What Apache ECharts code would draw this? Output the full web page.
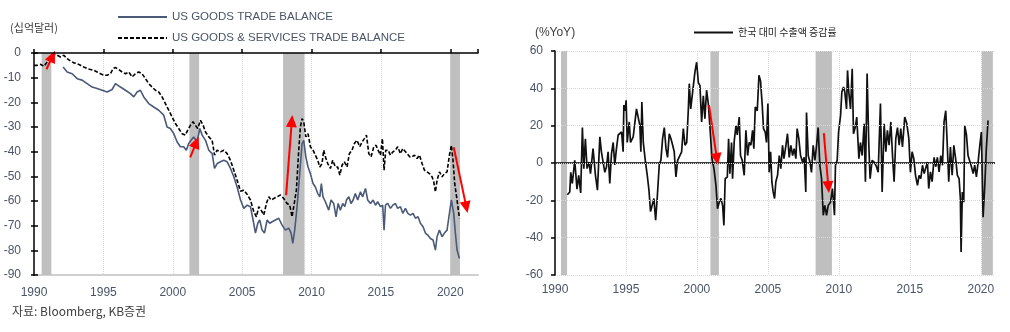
<!DOCTYPE html>
<html><head><meta charset="utf-8">
<script src="https://cdn.jsdelivr.net/npm/echarts@6/dist/echarts.min.js"></script>
<style>html,body{margin:0;padding:0;background:#fff}#c{width:1010px;height:332px}</style>
</head><body><div id="c"></div>
<script>
// ---------- Left chart: US trade balance (bn USD) ----------
const goodsYears = [1992.1,1992.39,1992.75,1993.11,1993.47,1993.83,1994.19,1994.55,1994.91,1995.27,1995.63,1995.87,1996.23,1996.59,1996.95,1997.19,1997.43,1997.67,1997.91,1998.27,1998.63,1998.99,1999.35,1999.59,1999.83,2000.07,2000.31,2000.55,2000.79,2000.98,2001.15,2001.32,2001.51,2001.75,2001.95,2002.12,2002.36,2002.6,2002.84,2003.01,2003.2,2003.44,2003.68,2003.92,2004.16,2004.4,2004.64,2004.88,2005.12,2005.36,2005.6,2005.79,2005.96,2006.13,2006.27,2006.44,2006.61,2006.8,2006.99,2007.16,2007.4,2007.64,2007.88,2008.12,2008.36,2008.53,2008.65,2008.79,2008.96,2009.15,2009.32,2009.44,2009.59,2009.75,2009.92,2010.11,2010.28,2010.45,2010.6,2010.71,2010.83,2011.0,2011.12,2011.24,2011.41,2011.6,2011.77,2011.92,2012.08,2012.25,2012.4,2012.52,2012.69,2012.85,2013.0,2013.16,2013.33,2013.53,2013.69,2013.89,2014.05,2014.25,2014.44,2014.61,2014.77,2014.97,2015.13,2015.23,2015.33,2015.49,2015.69,2015.86,2016.05,2016.21,2016.41,2016.58,2016.77,2016.94,2017.13,2017.32,2017.49,2017.68,2017.85,2018.04,2018.21,2018.38,2018.57,2018.76,2018.93,2019.05,2019.22,2019.41,2019.58,2019.77,2019.94,2020.08,2020.25,2020.37,2020.49,2020.66];
const goodsValues = [-5.7,-7.7,-8.4,-10.4,-11,-12.4,-13.8,-14.4,-15.1,-15.8,-14.8,-12.4,-13.8,-15.1,-16.5,-17.8,-15.8,-15.1,-17.8,-20.5,-21.9,-23.2,-25.2,-30,-30.6,-32.7,-36,-38,-38,-39.4,-36.7,-35.4,-34,-36,-30.6,-33.3,-35.4,-39.4,-40.8,-46.8,-44.8,-44.1,-43.5,-44.1,-46.8,-50.2,-54.3,-59.5,-63,-61.7,-62.3,-67.7,-73,-69,-67.7,-71.8,-73,-67.7,-69,-68.4,-67.7,-67,-69.8,-71.8,-71,-73,-77.2,-71.8,-62.3,-48.9,-36.7,-35.4,-42.1,-46.2,-48.9,-52.9,-54.3,-57,-58.3,-52.9,-58.3,-60.3,-61,-63.7,-59.6,-61,-66.4,-61,-63.7,-61,-62.3,-59.6,-58.3,-61,-59.6,-57,-59.6,-56.3,-58.3,-54.9,-59.6,-61,-59.6,-61.7,-60.3,-62.3,-61.7,-71.8,-61.7,-61,-63,-61.7,-61,-63,-62.3,-65,-63,-65,-65.7,-65,-67,-66.4,-69,-70.4,-73,-73.8,-75.2,-75.8,-79.9,-74.5,-71.8,-74.5,-73,-71.8,-65,-59.6,-65,-73,-79.9,-83.3];

const totalYears = [1990.0,1990.24,1990.48,1990.72,1990.95,1991.19,1991.43,1991.67,1991.91,1992.15,1992.39,1992.63,1992.87,1993.11,1993.35,1993.59,1993.83,1994.07,1994.31,1994.55,1994.79,1995.03,1995.27,1995.51,1995.7,1995.87,1996.11,1996.35,1996.59,1996.83,1997.07,1997.31,1997.55,1997.79,1998.03,1998.27,1998.51,1998.75,1998.99,1999.23,1999.47,1999.71,1999.95,2000.19,2000.43,2000.67,2000.91,2001.08,2001.27,2001.46,2001.63,2001.8,2002.0,2002.19,2002.36,2002.6,2002.84,2003.01,2003.2,2003.44,2003.68,2003.92,2004.16,2004.4,2004.64,2004.88,2005.12,2005.36,2005.6,2005.84,2006.03,2006.2,2006.37,2006.56,2006.75,2006.92,2007.09,2007.28,2007.52,2007.76,2008.0,2008.24,2008.43,2008.6,2008.72,2008.91,2009.08,2009.2,2009.32,2009.44,2009.59,2009.75,2009.92,2010.11,2010.28,2010.45,2010.6,2010.76,2010.88,2011.0,2011.17,2011.36,2011.53,2011.72,2011.89,2012.04,2012.2,2012.37,2012.56,2012.73,2012.92,2013.09,2013.28,2013.48,2013.65,2013.81,2013.96,2014.13,2014.29,2014.49,2014.65,2014.8,2014.97,2015.11,2015.23,2015.35,2015.52,2015.69,2015.86,2016.05,2016.21,2016.41,2016.58,2016.72,2016.89,2017.08,2017.25,2017.42,2017.61,2017.78,2017.97,2018.14,2018.33,2018.5,2018.69,2018.81,2018.93,2019.05,2019.22,2019.41,2019.58,2019.77,2019.94,2020.08,2020.2,2020.32,2020.49,2020.66];
const totalValues = [-5,-5,-4.6,-5.4,-3.6,-1.6,-0.5,-0.9,-1.6,-0.9,-2.3,-3.2,-4,-4.3,-5,-5.7,-6.3,-6.7,-7,-7.7,-8.4,-9,-9,-8.4,-6.3,-5.9,-6.7,-7.7,-8.4,-7.7,-9.7,-8.4,-7.7,-8.4,-10.4,-12.4,-13.8,-15.1,-15.8,-17.8,-20.5,-23.2,-25.9,-28.6,-30.6,-32.7,-33.3,-31.3,-29.3,-27.9,-29.3,-30.6,-27.3,-29.3,-32,-34,-35.4,-41.4,-39.4,-40.1,-39.4,-40.8,-43.5,-47.5,-51.6,-56,-55.6,-57.3,-59.6,-64.3,-66.4,-62.3,-63.7,-65.7,-61,-58.3,-59.6,-59,-58.3,-57.6,-59,-61,-61.7,-66.4,-62.3,-55.6,-39.4,-30,-26.6,-27.9,-34,-32.7,-38,-39.4,-41.4,-43.5,-46.2,-44.8,-39.4,-42.1,-44.8,-46.8,-43.5,-46.2,-46.2,-49.5,-45.5,-44.1,-46.2,-40.8,-39.4,-36.7,-35.4,-38,-36,-34.7,-33.3,-40.8,-42.1,-38,-37.4,-39.4,-41.4,-34.7,-47.5,-39.4,-39.4,-41.4,-40.1,-39.4,-38,-40.8,-38.7,-38,-40.8,-42.1,-42.1,-41.4,-42.8,-41.4,-44.8,-47.5,-48.2,-48.9,-50.2,-52.2,-56.3,-51.6,-48.2,-50.2,-48.9,-48.2,-41.4,-37.4,-43.5,-52.9,-59.6,-67];

const leftRecessions = [[1990.55,1991.25],[2001.2,2001.9],[2007.95,2009.5],[2020.0,2020.7]];
const leftArrows = [[[1990.9,-6.6],[1991.33,-1.3]],[[2001.26,-42.3],[2001.7,-36.2]],[[2008.17,-57.6],[2008.58,-27.6]],[[2020.25,-38.2],[2021.16,-62.5]]];

// ---------- Right chart: Korea exports to US (%YoY) ----------
const krYears = [1990.87,1991.04,1991.11,1991.22,1991.39,1991.55,1991.67,1991.81,1991.93,1992.03,1992.14,1992.26,1992.4,1992.5,1992.68,1992.85,1992.99,1993.16,1993.27,1993.39,1993.51,1993.63,1993.74,1993.86,1993.98,1994.1,1994.21,1994.33,1994.45,1994.57,1994.69,1994.8,1994.85,1994.94,1995.01,1995.09,1995.23,1995.32,1995.51,1995.63,1995.74,1995.86,1995.98,1996.05,1996.12,1996.22,1996.36,1996.5,1996.62,1996.73,1996.85,1996.97,1997.09,1997.2,1997.35,1997.46,1997.58,1997.7,1997.82,1997.93,1998.05,1998.17,1998.29,1998.4,1998.52,1998.64,1998.76,1998.92,1999.04,1999.16,1999.28,1999.39,1999.46,1999.56,1999.65,1999.75,1999.86,1999.98,2000.1,2000.21,2000.33,2000.45,2000.56,2000.68,2000.8,2000.91,2001.06,2001.2,2001.34,2001.45,2001.57,2001.69,2001.81,2001.9,2001.99,2002.14,2002.23,2002.32,2002.44,2002.51,2002.63,2002.75,2002.84,2002.98,2003.07,2003.19,2003.33,2003.45,2003.57,2003.68,2003.8,2003.92,2004.01,2004.11,2004.25,2004.37,2004.48,2004.6,2004.69,2004.81,2004.9,2005.0,2005.09,2005.19,2005.28,2005.37,2005.47,2005.56,2005.68,2005.8,2005.91,2006.03,2006.13,2006.27,2006.38,2006.5,2006.62,2006.74,2006.85,2006.97,2007.06,2007.18,2007.3,2007.44,2007.56,2007.67,2007.72,2007.84,2007.96,2008.07,2008.19,2008.31,2008.43,2008.54,2008.66,2008.78,2008.9,2009.01,2009.13,2009.25,2009.41,2009.55,2009.69,2009.76,2009.88,2009.98,2010.12,2010.21,2010.33,2010.42,2010.54,2010.61,2010.7,2010.82,2010.94,2011.03,2011.15,2011.26,2011.41,2011.52,2011.64,2011.78,2011.87,2011.99,2012.11,2012.2,2012.34,2012.49,2012.65,2012.77,2012.93,2013.05,2013.19,2013.31,2013.42,2013.54,2013.66,2013.78,2013.89,2014.01,2014.13,2014.25,2014.36,2014.48,2014.64,2014.79,2014.93,2015.04,2015.16,2015.28,2015.4,2015.54,2015.65,2015.77,2015.89,2016.01,2016.12,2016.24,2016.33,2016.45,2016.57,2016.71,2016.83,2016.94,2017.06,2017.18,2017.3,2017.41,2017.53,2017.63,2017.74,2017.86,2017.98,2018.1,2018.24,2018.35,2018.47,2018.56,2018.61,2018.7,2018.8,2018.87,2018.99,2019.1,2019.22,2019.34,2019.46,2019.57,2019.69,2019.81,2019.93,2020.04,2020.16,2020.28,2020.39,2020.51];
const krValues = [-17,-15.5,-5,-11,1.4,-14,-6.6,-16,19,-3,13,-3,0.5,-5.7,7.7,-6.6,-14.6,14,6,5,-5,-2,6,-11,5,11,-1,7.7,15,14,16.6,6,31,28,33.6,11,22,11,14,15,29,28,20,6,32.7,11,1.4,-6.6,-14.6,-26,-26,-19,-30.7,-19,-0.4,1.4,13,19,7.7,3,15.7,13,9.5,6,-7.5,1.4,2.3,6,18.4,9.5,11,28,42.5,29,30,41.6,48.8,54,43,41.6,22,36,23.7,39,31.8,20,2.3,-3,-12,-24.5,-21,-19,-22.7,-33.4,-8.4,-7.5,13,-5.7,11,-8.4,12,20,15,24.6,4,1.4,-6.6,17.5,4,11,9.5,17.5,7.7,30,28,47,44,31,18.4,16.6,11,31.8,-5,6,-10,-15.5,-19,-10,-6.6,4,-3,9.5,2.3,9.5,15.7,3,9.5,4,7.7,2.3,18.4,13,4,0.5,3,-15.5,27,4,0.5,-5,9.5,1.4,9.5,19,-1.2,-8.4,-28,-22.7,-28,-22.7,-21,-13.7,-28,-1.2,1.4,16.6,25.5,38,40.7,38,29,49.6,38,29,50.5,15.7,19,24.6,2.3,11,4,21,-10,47.9,9.5,-8.4,1.4,0.5,-2,-5,31.8,-15.5,21,6,17.5,9.5,22,4,-10,13,19,9.5,18.4,8.6,24.6,21,13,-5,6,2.3,-6.6,-12,-6.6,-8.4,-1.2,-5.7,-4.8,0.5,-13.7,-4.8,-10,3,-2,3,-4.8,4,-1.2,22,28,11,-10,8.6,-6.6,9.5,1.4,-6.6,-8.4,-19,-47.7,-15.5,-21,20,15,4,5,-2,-5.7,-1.2,-7.5,0.5,9.5,16.6,-29,-12,7.7,22.8];

const rightRecessions = [[1990.42,1990.85],[2000.95,2001.55],[2008.36,2009.51],[2020.07,2020.85]];
const rightArrows = [[[2000.85,31],[2001.41,2.1]],[[2008.94,16],[2009.26,-12.9]],[[2020.63,-17],[2021.02,20.8]]];

// ---------- Text ----------
const leftSeriesNames = ['US GOODS TRADE BALANCE','US GOODS & SERVICES TRADE BALANCE'];
const rightSeriesName = '한국 대미 수출액 증감률';
const leftUnit = '(십억달러)';
const rightUnit = '(%YoY)';
const sourceText = '자료: Bloomberg, KB증권';

const pairs = (xs, ys) => xs.map((x, i) => [x, ys[i]]);
const LBL = '#4a5468';
const LATIN = "'Liberation Sans', Arial, sans-serif";
const KR = "'Noto Sans CJK KR', sans-serif";
const yearFmt = v => String(v);

const chart = echarts.init(document.getElementById('c'), null, {renderer: 'canvas'});
const arrowML = (arrs) => ({
  silent: true, symbol: ['none', 'triangle'], symbolSize: [11, 12], label: {show: false},
  lineStyle: {color: '#ff0000', width: 2, type: 'solid'},
  data: arrs.map(a => [{coord: a[0]}, {coord: a[1]}])
});
const shadeMA = (r) => ({
  silent: true, itemStyle: {color: '#bfbfbf'},
  data: r.map(p => [{xAxis: p[0]}, {xAxis: p[1]}])
});

chart.setOption({
  animation: false,
  textStyle: {fontFamily: LATIN},
  grid: [
    {left: 34, top: 53, width: 444, height: 222},
    {left: 555, top: 51, width: 440, height: 224}
  ],
  legend: [
    {data: leftSeriesNames, orient: 'vertical', left: 112, top: 6, itemWidth: 49, itemHeight: 14, itemGap: 9,
     itemStyle: {opacity: 0},
     textStyle: {fontFamily: LATIN, fontSize: 11.5, color: LBL}},
    {data: [rightSeriesName], left: 688, top: 22, itemWidth: 39, itemHeight: 14,
     itemStyle: {opacity: 0},
     textStyle: {fontFamily: KR, fontSize: 10, color: '#262626'}}
  ],
  xAxis: [
    {gridIndex: 0, type: 'value', min: 1990, max: 2022, interval: 5, position: 'bottom',
     axisLine: {show: true, onZero: false, lineStyle: {color: '#d0d0d0', width: 2}},
     axisTick: {show: false},
     axisLabel: {color: LBL, fontSize: 12, margin: 12, showMaxLabel: false, formatter: yearFmt},
     splitLine: {show: true, showMinLine: false, showMaxLine: false, lineStyle: {color: '#d6d6d6', type: 'dotted', width: 1}}},
    {gridIndex: 0, type: 'value', min: 1990, max: 2022, interval: 5, position: 'top', z: 10,
     axisLine: {show: true, onZero: false, lineStyle: {color: '#000', width: 1.5}},
     axisTick: {show: true, length: 4, lineStyle: {color: '#000', width: 1.5}},
     axisLabel: {show: false}, splitLine: {show: false}},
    {gridIndex: 1, type: 'value', min: 1990, max: 2021, interval: 5, position: 'bottom',
     axisLine: {show: false, onZero: false}, axisTick: {show: false},
     axisLabel: {color: LBL, fontSize: 12, margin: 9, showMaxLabel: false, formatter: yearFmt},
     splitLine: {show: true, showMinLine: false, showMaxLine: false, lineStyle: {color: '#d6d6d6', type: 'dotted', width: 1}}}
  ],
  yAxis: [
    {gridIndex: 0, type: 'value', min: -90, max: 0, interval: 10, position: 'left', z: 10,
     name: leftUnit, nameLocation: 'end', nameGap: 20,
     nameTextStyle: {fontFamily: KR, fontSize: 11, color: '#404040', align: 'center'},
     axisLine: {show: true, onZero: false, lineStyle: {color: '#000', width: 1.5}},
     axisTick: {show: true, length: 3, lineStyle: {color: '#000', width: 1.5}},
     axisLabel: {color: LBL, fontSize: 12, margin: 13},
     splitLine: {show: false}},
    {gridIndex: 0, type: 'value', min: -90, max: 0, interval: 10, position: 'left', z: 10,
     axisLine: {show: false}, axisTick: {show: true, inside: true, length: 4, lineStyle: {color: '#000', width: 1.5}},
     axisLabel: {show: false}, splitLine: {show: false}},
    {gridIndex: 1, type: 'value', min: -60, max: 60, interval: 20, position: 'left', z: 10,
     name: rightUnit, nameLocation: 'end', nameGap: 12,
     nameTextStyle: {fontSize: 12, color: '#404040', align: 'center'},
     axisLine: {show: true, onZero: false, lineStyle: {color: '#000', width: 1.5}},
     axisTick: {show: true, length: 4, lineStyle: {color: '#000', width: 1.5}},
     axisLabel: {color: LBL, fontSize: 12, margin: 12},
     splitLine: {show: true, lineStyle: {color: '#d6d6d6', type: 'dotted', width: 1}}}
  ],
  series: [
    {name: leftSeriesNames[0], type: 'line', xAxisIndex: 0, yAxisIndex: 0, symbol: 'none', z: 3,
     lineStyle: {color: '#4a5a78', width: 1.6}, itemStyle: {color: '#4a5a78'},
     data: pairs(goodsYears, goodsValues), markArea: shadeMA(leftRecessions)},
    {name: leftSeriesNames[1], type: 'line', xAxisIndex: 0, yAxisIndex: 0, symbol: 'none', z: 4,
     lineStyle: {color: '#000', width: 1.6, type: [4, 2]}, itemStyle: {color: '#000'},
     data: pairs(totalYears, totalValues)},
    {name: 'arrowsL', type: 'line', xAxisIndex: 0, yAxisIndex: 0, symbol: 'none', z: 6, clip: false,
     data: [], markLine: arrowML(leftArrows)},
    {name: rightSeriesName, type: 'line', xAxisIndex: 2, yAxisIndex: 2, symbol: 'none', z: 4,
     lineStyle: {color: '#111', width: 1.7}, itemStyle: {color: '#111'},
     data: pairs(krYears, krValues), markArea: shadeMA(rightRecessions),
     markLine: {silent: true, symbol: 'none', label: {show: false},
       lineStyle: {color: '#000', width: 1.5, type: 'solid'}, data: [{yAxis: 0}]}},
    {name: 'arrowsR', type: 'line', xAxisIndex: 2, yAxisIndex: 2, symbol: 'none', z: 6, clip: false,
     data: [], markLine: arrowML(rightArrows)}
  ],
  graphic: [
    {type: 'text', left: 12, top: 305, style: {text: sourceText, fontFamily: KR, fontSize: 12, fill: '#404040'}}
  ]
});
</script>
</body></html>
